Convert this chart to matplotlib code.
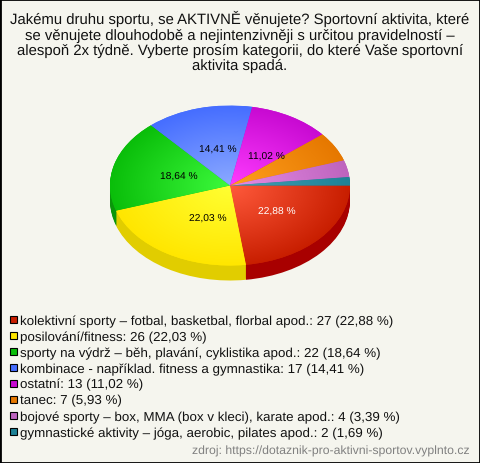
#!/usr/bin/env python3
import numpy as np
import matplotlib
matplotlib.use('Agg')
import matplotlib.pyplot as plt
from matplotlib.colors import LinearSegmentedColormap
from matplotlib.patches import Rectangle

# -------------------------------------------------------------------------------------------------
# Data
# -------------------------------------------------------------------------------------------------
title_lines = ['Jakému druhu sportu, se AKTIVNĚ věnujete? Sportovní aktivita, které',
               'se věnujete dlouhodobě a nejintenzivněji s určitou pravidelností –',
               'alespoň 2x týdně. Vyberte prosím kategorii, do které Vaše sportovní',
               'aktivita spadá.']
categories = ['kolektivní sporty – fotbal, basketbal, florbal apod.',
              'posilování/fitness',
              'sporty na výdrž – běh, plavání, cyklistika apod.',
              'kombinace - například. fitness a gymnastika',
              'ostatní',
              'tanec',
              'bojové sporty – box, MMA (box v kleci), karate apod.',
              'gymnastické aktivity – jóga, aerobic, pilates apod.']
counts = [27, 26, 22, 17, 13, 7, 4, 2]
percents = ['22,88', '22,03', '18,64', '14,41', '11,02', '5,93', '3,39', '1,69']
source = 'zdroj: https://dotaznik-pro-aktivni-sportov.vyplnto.cz'

# colours
inner = ['#ff5a3c', '#ffff32', '#3cfa3c', '#8caaff', '#ff3cff', '#ffa01e', '#e68ce6', '#46a0b4']
outer = ['#c81e00', '#ffe600', '#0abe0a', '#466eff', '#c80ad2', '#e67800', '#be64be', '#1e8296']
side = ['#a80000', '#e1cd00', '#0a960a', '#3250c0', '#9600a0', '#b45a00', '#964b96', '#14647a']
legend_col = ['#c81e00', '#ffe600', '#0abe0a', '#466eff', '#c80ad2', '#e67800', '#be64be', '#1e8296']
bg = '#f5f5ee'

# label placement, pixels
label_xy = [(277, 212), (208, 219), (179, 177), (218, 150), (266, 157)]
label_col = ['white', 'black', 'black', 'black', 'black']

W = 480; H = 464
plt.rcParams['font.family'] = ['Liberation Sans', 'DejaVu Sans']
plt.rcParams['text.hinting'] = 'no_hinting'
fig = plt.figure(figsize=(W/100, H/100), dpi=100, facecolor=bg)

def fx(x): return x/W
def fy(y): return 1-y/H

# border
fig.add_artist(Rectangle((0, 0), 1, 1, transform=fig.transFigure, fill=False, edgecolor='black', linewidth=2))

# -------------------------------------------------------------------------------------------------
# Title
# -------------------------------------------------------------------------------------------------
for i, line in enumerate(title_lines):
	fig.text(0.5, fy(24+i*15.4), line, ha='center', va='baseline', fontsize=10.7, color='#111111')

# -------------------------------------------------------------------------------------------------
# Pie
# -------------------------------------------------------------------------------------------------
cx = 230; cy = 186.5; rx = 120; ry = 80; depth = 15
ax = fig.add_axes([fx(cx-rx), fy(cy+ry), 2*rx/W, 2*ry/H])
ax.set_axis_off()

# side wall, stacked from the bottom up
dy = 2*1.0/(2*ry)
for k in range(depth, 0, -1):
	ax.pie(counts, colors=side, startangle=0, counterclock=False, radius=1, center=(0, -k*dy))

wedges, _ = ax.pie(counts, colors=outer, startangle=0, counterclock=False, radius=1, center=(0, 0))

# radial gradient on top of every slice
xx, yy = np.meshgrid(np.linspace(-1, 1, 400), np.linspace(-1, 1, 300))
rr = np.sqrt(xx**2+yy**2)
for w, c0, c1 in zip(wedges, inner, outer):
	cmap = LinearSegmentedColormap.from_list('g', [c0, c1])
	im = ax.imshow(rr, extent=(-1, 1, -1, 1), origin='lower', cmap=cmap, vmin=0, vmax=1, aspect='auto', interpolation='bilinear', zorder=2)
	im.set_clip_path(w)

ax.set_aspect('auto')
ax.set_xlim(-1, 1)
ax.set_ylim(-1, 1)
for a in ax.patches:
	a.set_clip_on(False)

for (x, y), p, c in zip(label_xy, percents, label_col):
	fig.text(fx(x), fy(y), p+' %', ha='center', va='center', fontsize=7.4, color=c)

# -------------------------------------------------------------------------------------------------
# Legend
# -------------------------------------------------------------------------------------------------
for i, (name, n, p, c) in enumerate(zip(categories, counts, percents, legend_col)):
	y = 320+i*16
	fig.add_artist(Rectangle((fx(10), fy(y+3.5)), 7/W, 7/H, transform=fig.transFigure, facecolor=c, edgecolor='black', linewidth=0.8))
	fig.text(fx(20), fy(y+4.8), '%s: %d (%s %%)' % (name, n, p), ha='left', va='baseline', fontsize=9.6, color='#111111')

fig.text(fx(470), fy(455), source, ha='right', va='baseline', fontsize=8.8, color='#808080')

plt.savefig('out.png', dpi=100, facecolor=bg)
